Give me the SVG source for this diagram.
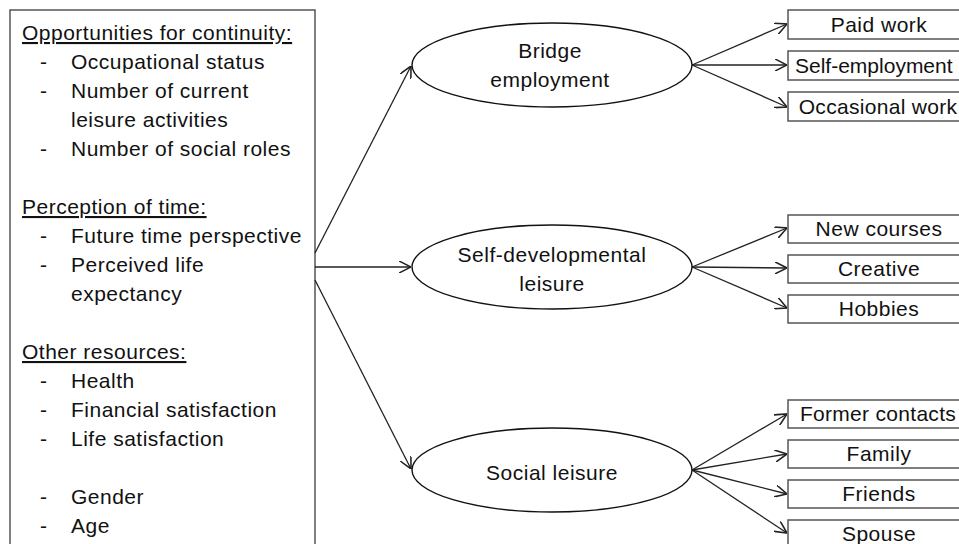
<svg xmlns="http://www.w3.org/2000/svg" width="959" height="544" viewBox="0 0 959 544">
<defs>
<style>
text{font-family:"Liberation Sans",Arial,sans-serif;font-size:21px;letter-spacing:0.5px;fill:#111}
.h{text-decoration:underline}
.c{text-anchor:middle}
.box{fill:#fff;stroke:#555;stroke-width:1.5}
.ell{fill:#fff;stroke:#111;stroke-width:1.4}
.ln{fill:none;stroke:#222;stroke-width:1.3;marker-end:url(#arr)}
</style>
<marker id="arr" markerUnits="userSpaceOnUse" markerWidth="12" markerHeight="12" refX="10" refY="5" orient="auto" viewBox="0 0 10 10">
<path d="M0,0 L10,5 L0,10" fill="none" stroke="#222" stroke-width="1.3"/>
</marker>
</defs>
<rect width="959" height="544" fill="#fff"/>

<g id="factors">
<rect class="box" x="10" y="10" width="305" height="545"/>
<text class="h" x="22" y="40">Opportunities for continuity:</text>
<text x="40" y="69">-</text><text x="71" y="69">Occupational status</text>
<text x="40" y="98">-</text><text x="71" y="98">Number of current</text>
<text x="71" y="127">leisure activities</text>
<text x="40" y="156">-</text><text x="71" y="156">Number of social roles</text>
<text class="h" x="22" y="214">Perception of time:</text>
<text x="40" y="243">-</text><text x="71" y="243">Future time perspective</text>
<text x="40" y="272">-</text><text x="71" y="272">Perceived life</text>
<text x="71" y="301">expectancy</text>
<text class="h" x="22" y="359">Other resources:</text>
<text x="40" y="388">-</text><text x="71" y="388">Health</text>
<text x="40" y="417">-</text><text x="71" y="417">Financial satisfaction</text>
<text x="40" y="446">-</text><text x="71" y="446">Life satisfaction</text>
<text x="40" y="504">-</text><text x="71" y="504">Gender</text>
<text x="40" y="533">-</text><text x="71" y="533">Age</text>
</g>

<g id="connectors">
<line class="ln" x1="315" y1="253" x2="411" y2="66"/>
<line class="ln" x1="315" y1="267" x2="411" y2="267"/>
<line class="ln" x1="315" y1="280" x2="411" y2="469"/>
<line class="ln" x1="692" y1="65" x2="787" y2="24"/>
<line class="ln" x1="692" y1="65" x2="787" y2="65"/>
<line class="ln" x1="692" y1="65" x2="787" y2="107"/>
<line class="ln" x1="692" y1="267" x2="787" y2="228"/>
<line class="ln" x1="692" y1="267" x2="787" y2="268"/>
<line class="ln" x1="692" y1="267" x2="787" y2="308"/>
<line class="ln" x1="692" y1="470" x2="787" y2="414"/>
<line class="ln" x1="692" y1="470" x2="787" y2="454"/>
<line class="ln" x1="692" y1="470" x2="787" y2="494"/>
<line class="ln" x1="692" y1="470" x2="787" y2="533"/>
</g>

<g id="bridge">
<ellipse class="ell" cx="552" cy="65" rx="140" ry="42"/>
<text class="c" x="550" y="58">Bridge</text>
<text class="c" x="550" y="87">employment</text>
</g>
<g id="selfdev">
<ellipse class="ell" cx="552" cy="267" rx="140" ry="42"/>
<text class="c" x="552" y="262">Self-developmental</text>
<text class="c" x="552" y="291">leisure</text>
</g>
<g id="social">
<ellipse class="ell" cx="552" cy="470" rx="140" ry="42"/>
<text class="c" x="552" y="480">Social leisure</text>
</g>

<g id="paid"><rect class="box" x="788" y="10" width="182" height="29"/><text class="c" x="879" y="32">Paid work</text></g>
<g id="selfemp"><rect class="box" x="788" y="51" width="182" height="29"/><text x="795" y="73" style="letter-spacing:0">Self-employment</text></g>
<g id="occasional"><rect class="box" x="788" y="92" width="182" height="29"/><text class="c" x="878" y="114" style="letter-spacing:0.3px">Occasional work</text></g>
<g id="courses"><rect class="box" x="788" y="215" width="182" height="28"/><text class="c" x="879" y="236">New courses</text></g>
<g id="creative"><rect class="box" x="788" y="255" width="182" height="28"/><text class="c" x="879" y="276">Creative</text></g>
<g id="hobbies"><rect class="box" x="788" y="295" width="182" height="28"/><text class="c" x="879" y="316">Hobbies</text></g>
<g id="former"><rect class="box" x="788" y="400" width="182" height="28"/><text class="c" x="878" y="421" style="letter-spacing:0.3px">Former contacts</text></g>
<g id="family"><rect class="box" x="788" y="440" width="182" height="28"/><text class="c" x="879" y="461">Family</text></g>
<g id="friends"><rect class="box" x="788" y="480" width="182" height="28"/><text class="c" x="879" y="501">Friends</text></g>
<g id="spouse"><rect class="box" x="788" y="520" width="182" height="28"/><text class="c" x="879" y="541">Spouse</text></g>
</svg>
